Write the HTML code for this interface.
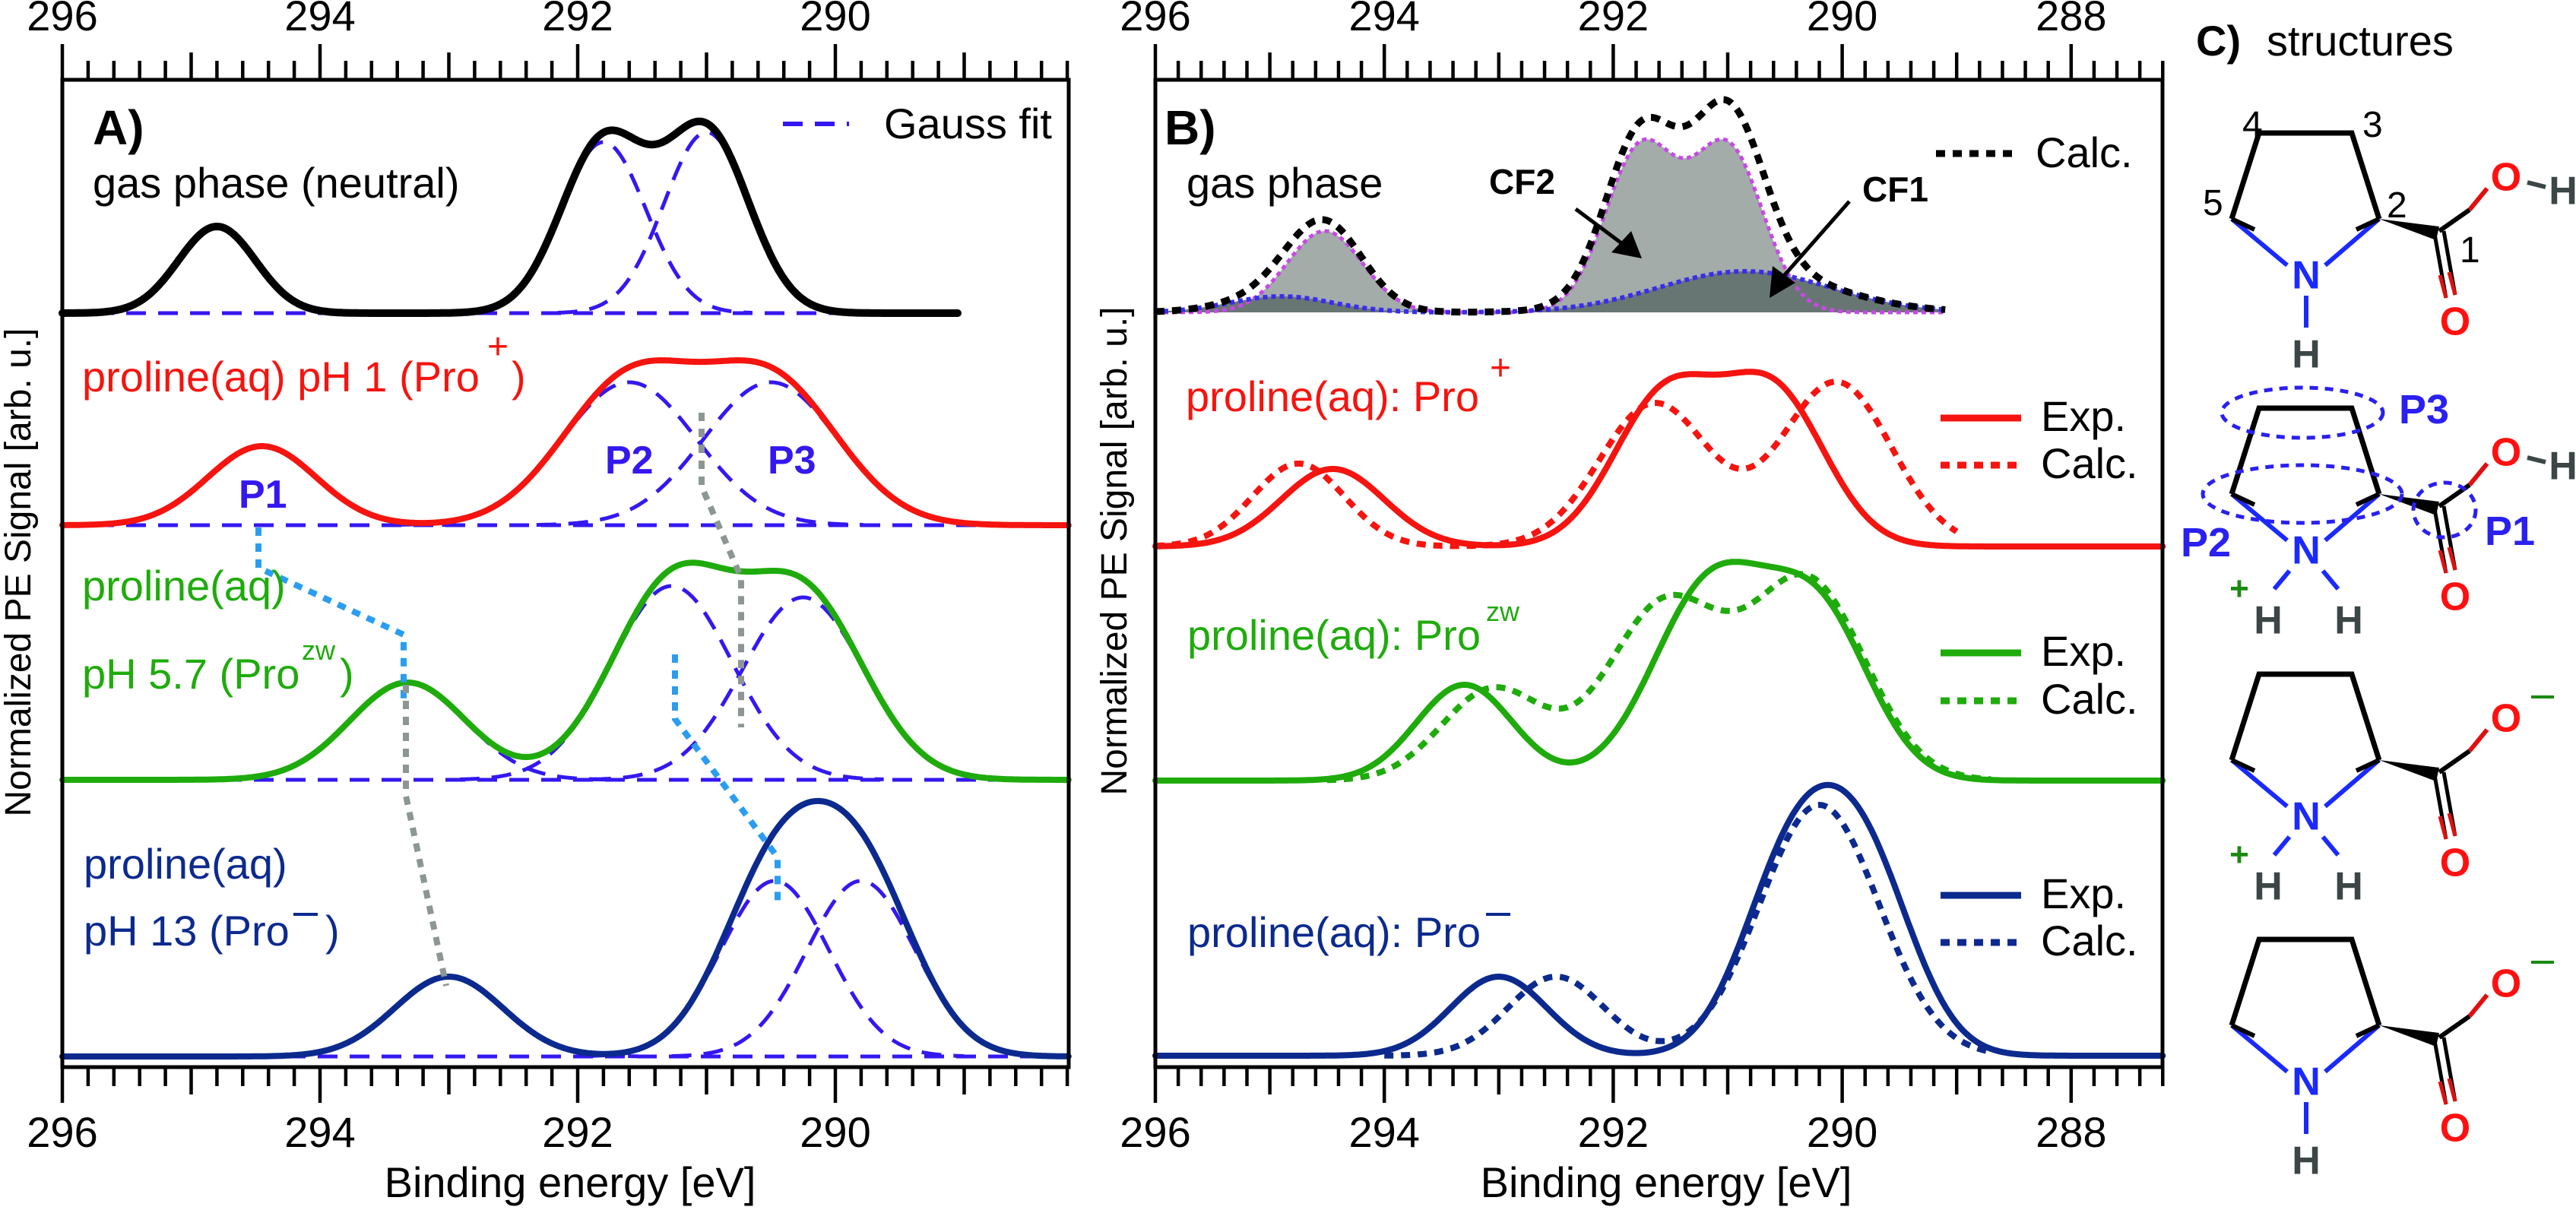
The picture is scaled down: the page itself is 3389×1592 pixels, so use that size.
<!DOCTYPE html>
<html>
<head>
<meta charset="utf-8">
<style>
html,body{margin:0;padding:0;background:#fff;}
svg{display:block;font-family:"Liberation Sans",sans-serif;}
</style>
</head>
<body>
<svg id="fig" width="3389" height="1592" viewBox="0 0 3389 1592" xmlns="http://www.w3.org/2000/svg">
<defs>
<linearGradient id="gBN1" x1="0" y1="0" x2="1" y2="0"><stop offset="0" stop-color="#000"/><stop offset="0.35" stop-color="#1a2ad0"/><stop offset="1" stop-color="#1a2aff"/></linearGradient>
<linearGradient id="gNB1" x1="0" y1="0" x2="1" y2="0"><stop offset="0" stop-color="#1a2aff"/><stop offset="0.65" stop-color="#1a2ad0"/><stop offset="1" stop-color="#000"/></linearGradient>
</defs>
</svg>
<script>
// ---------- Panel A data (Gauss components: center [eV], amplitude [arb. u.], width sigma [eV]) ----------
const aGasCenters = [294.8, 291.8, 291.0];
const aGasAmps = [1.14, 2.25, 2.38];
const aGasWidths = [0.30, 0.33, 0.33];
const aPlusCenters = [294.45, 291.6, 290.5];
const aPlusAmps = [1.04, 1.88, 1.88];
const aPlusWidths = [0.42, 0.52, 0.52];
const aZwCenters = [293.32, 291.27, 290.25];
const aZwAmps = [1.28, 2.55, 2.4];
const aZwWidths = [0.45, 0.47, 0.47];
const aMinusCenters = [293.0, 290.47, 289.8];
const aMinusAmps = [1.05, 2.31, 2.31];
const aMinusWidths = [0.42, 0.42, 0.42];
// ---------- Panel B data ----------
const bCF2Centers = [294.52, 291.76, 291.0];
const bCF2Amps = [1.07, 2.15, 2.15];
const bCF2Widths = [0.33, 0.31, 0.31];
const bCF1Centers = [294.9, 290.85];
const bCF1Amps = [0.21, 0.54];
const bCF1Widths = [0.45, 0.75];
const bPlusExpCenters = [294.45, 291.55, 290.6];
const bPlusExpAmps = [1.02, 1.95, 2.0];
const bPlusExpWidths = [0.45, 0.45, 0.45];
const bPlusCalcCenters = [294.75, 291.64, 290.05];
const bPlusCalcAmps = [1.09, 1.88, 2.16];
const bPlusCalcWidths = [0.4, 0.48, 0.48];
const bZwExpCenters = [293.3, 291.15, 290.2];
const bZwExpAmps = [1.26, 2.55, 2.1];
const bZwExpWidths = [0.42, 0.5, 0.45];
const bZwCalcCenters = [293.05, 291.55, 290.3];
const bZwCalcAmps = [1.2, 2.3, 2.6];
const bZwCalcWidths = [0.45, 0.5, 0.5];
const bMinusExpCenters = [293.0, 290.45, 289.8];
const bMinusExpAmps = [1.04, 2.37, 2.37];
const bMinusExpWidths = [0.42, 0.43, 0.43];
const bMinusCalcCenters = [292.5, 290.2];
const bMinusCalcAmps = [1.04, 3.3];
const bMinusCalcWidths = [0.42, 0.52];
// tick labels
const aTickLabels = [296, 294, 292, 290];
const bTickLabels = [296, 294, 292, 290, 288];

const NS = 'http://www.w3.org/2000/svg';
const svg = document.getElementById('fig');
function mk(tag, attrs, parent) {
  const el = document.createElementNS(NS, tag);
  for (const k in attrs) el.setAttribute(k, attrs[k]);
  (parent || svg).appendChild(el);
  return el;
}
// axis functions
const xA = e => 82 + (296 - e) * 169.5;
const xB = e => 1520 + (296 - e) * 150.6;
const yV = (base, v) => base - v * 100;
const A_MIN = 288.19, B_MIN = 287.2;

function gsum(e, cs, as, ws) {
  let s = 0;
  for (let i = 0; i < cs.length; i++) s += as[i] * Math.exp(-0.5 * Math.pow((e - cs[i]) / ws[i], 2));
  return s;
}
function curvePts(xf, base, e0, e1, cs, as, ws) {
  const pts = [];
  for (let e = e0; e >= e1 - 1e-9; e -= 0.01) pts.push(xf(e).toFixed(1) + ',' + yV(base, gsum(e, cs, as, ws)).toFixed(1));
  return pts;
}
function drawCurve(name, xf, base, e0, e1, cs, as, ws, color, width, dash, fill) {
  const pts = curvePts(xf, base, e0, e1, cs, as, ws);
  const el = mk('polyline', {points: pts.join(' '), fill: 'none', stroke: color, 'stroke-width': width, 'stroke-linejoin': 'round', 'stroke-linecap': dash ? 'butt' : 'round'});
  if (dash) el.setAttribute('stroke-dasharray', dash);
  
  
  return el;
}
function drawFill(name, xf, base, e0, e1, cs, as, ws, color) {
  const pts = curvePts(xf, base, e0, e1, cs, as, ws);
  pts.push(xf(e1).toFixed(1) + ',' + base, xf(e0).toFixed(1) + ',' + base);
  const el = mk('polygon', {points: pts.join(' '), fill: color, stroke: 'none'});
  
  
}
function txt(name, x, y, s, size, color, weight, anchor) {
  const el = mk('text', {x: x, y: y, 'font-size': size, fill: color || '#000', 'font-weight': weight || 'normal', 'text-anchor': anchor || 'start'});
  el.textContent = s;
  
  
  return el;
}
function line(name, x1, y1, x2, y2, color, w, dash) {
  const el = mk('line', {x1: x1, y1: y1, x2: x2, y2: y2, stroke: color, 'stroke-width': w});
  if (dash) el.setAttribute('stroke-dasharray', dash);
  
  
  return el;
}
function poly(name, pts, color, w, dash) {
  const el = mk('polyline', {points: pts, fill: 'none', stroke: color, 'stroke-width': w});
  if (dash) el.setAttribute('stroke-dasharray', dash);
  
  
  return el;
}

// ---------- axes ----------
function axes(prefix, xf, left, right, eMin, labels) {
  const top = 105, bot = 1404;
  for (let k = 0; ; k++) {
    const e = 296 - k * 0.2;
    if (e < eMin - 1e-6) break;
    const x = xf(e);
    const r = Math.round(e * 10) / 10;
    let len = 25;
    if (Math.abs(r - Math.round(r)) < 1e-6) len = (Math.round(r) % 2 === 0) ? 47 : 36;
    line(prefix + '-top-tick', x, top, x, top - len, '#000', 4.5);
    line(prefix + '-bottom-tick', x, bot, x, bot + len, '#000', 4.5);
  }
  labels.forEach(v => {
    txt(prefix + '-top-tick-label', xf(v), 40, String(v), 56, '#000', 'normal', 'middle');
    txt(prefix + '-bottom-tick-label', xf(v), 1509, String(v), 56, '#000', 'normal', 'middle');
  });
  const fr = mk('rect', {x: left, y: top, width: right - left, height: bot - top, fill: 'none', stroke: '#000', 'stroke-width': 5});
  
  
}

// ---------- Panel A ----------
const BLUE_D = '#3418f0', RED = '#f5140f', GREEN = '#1fab0c', NAVY = '#0c2a8e';
const aBase = {gas: 412, plus: 691, zw: 1026, minus: 1390};
function gaussComps(prefix, base, cs, as, ws, e0, e1) {
  for (let i = 0; i < cs.length; i++) {
    const s0 = Math.min(e0, cs[i] + 3.5 * ws[i]), s1 = Math.max(e1, cs[i] - 3.5 * ws[i]);
    drawCurve(prefix + '-gauss-component', xA, base, s0, s1, [cs[i]], [as[i]], [ws[i]], BLUE_D, 5, '26 16');
  }
}
// baselines
line('a-gas-fit-baseline', xA(296), aBase.gas, xA(289.05), aBase.gas, BLUE_D, 5, '26 16');
line('a-plus-fit-baseline', xA(296), aBase.plus, xA(A_MIN), aBase.plus, BLUE_D, 5, '26 16');
line('a-zw-fit-baseline', xA(296), aBase.zw, xA(A_MIN), aBase.zw, BLUE_D, 5, '26 16');
line('a-minus-fit-baseline', xA(296), aBase.minus, xA(A_MIN), aBase.minus, BLUE_D, 5, '26 16');
gaussComps('a-gas', aBase.gas, aGasCenters.slice(1), aGasAmps.slice(1), aGasWidths.slice(1), 296, 289.05);
gaussComps('a-plus', aBase.plus, aPlusCenters, aPlusAmps, aPlusWidths, 296, A_MIN);
gaussComps('a-zw', aBase.zw, aZwCenters, aZwAmps, aZwWidths, 296, A_MIN);
gaussComps('a-minus', aBase.minus, aMinusCenters, aMinusAmps, aMinusWidths, 296, A_MIN);
drawCurve('a-gas-spectrum', xA, aBase.gas, 296, 289.05, aGasCenters, aGasAmps, aGasWidths, '#000', 10);
drawCurve('a-plus-spectrum', xA, aBase.plus, 296, A_MIN, aPlusCenters, aPlusAmps, aPlusWidths, RED, 8);
drawCurve('a-zw-spectrum', xA, aBase.zw, 296, A_MIN, aZwCenters, aZwAmps, aZwWidths, GREEN, 8);
drawCurve('a-minus-spectrum', xA, aBase.minus, 296, A_MIN, aMinusCenters, aMinusAmps, aMinusWidths, NAVY, 8);
// peak connectors
poly('p1-shift-connector', '340,694 340,747 531,835 531,919', '#2a9df0', 8, '11 10');
poly('p2-shift-connector', '888,861 888,946 1023,1128 1023,1194', '#2a9df0', 8, '11 10');
poly('p3-shift-connector', '923,543 923,640 975,760 975,957', '#8c9694', 8, '11 10');
poly('p1-gray-connector', '534,901 534,1047 587,1297', '#8c9694', 8, '11 10');
axes('a', xA, 82, 1406, A_MIN, aTickLabels);
// Panel A labels
txt('panel-a-label', 122, 190, 'A)', 64, '#000', 'bold');
txt('a-gas-label', 122, 260, 'gas phase (neutral)', 56);
line('a-legend-gauss-swatch', 1030, 163, 1117, 163, BLUE_D, 6, '26 16');
txt('a-legend-gauss-label', 1163, 182, 'Gauss fit', 56);
txt('a-plus-label', 108, 515, 'proline(aq) pH 1 (Pro', 56, RED);
txt('a-plus-sup', 641, 472, '+', 48, RED);
txt('a-plus-paren', 673, 515, ')', 56, RED);
txt('p1-label', 314, 668, 'P1', 52, BLUE_D, 'bold');
txt('p2-label', 796, 623, 'P2', 52, BLUE_D, 'bold');
txt('p3-label', 1010, 623, 'P3', 52, BLUE_D, 'bold');
txt('a-zw-label-line1', 108, 790, 'proline(aq)', 56, GREEN);
txt('a-zw-label-line2', 108, 906, 'pH 5.7 (Pro', 56, GREEN);
txt('a-zw-sup', 397, 868, 'zw', 36, GREEN);
txt('a-zw-paren', 447, 906, ')', 56, GREEN);
txt('a-minus-label-line1', 110, 1156, 'proline(aq)', 56, NAVY);
txt('a-minus-label-line2', 110, 1244, 'pH 13 (Pro', 56, NAVY);
line('a-minus-sup', 386, 1203, 418, 1203, NAVY, 4);
txt('a-minus-paren', 428, 1244, ')', 56, NAVY);
txt('a-x-axis-title', 750, 1575, 'Binding energy [eV]', 56, '#000', 'normal', 'middle');
const ya = txt('a-y-axis-title', 0, 0, 'Normalized PE Signal [arb. u.]', 48, '#000', 'normal', 'middle');
ya.setAttribute('transform', 'translate(40,753) rotate(-90)');

// ---------- Panel B ----------
const bBase = {gas: 411, plus: 719, zw: 1027, minus: 1389};
const calcCs = bCF2Centers.concat(bCF1Centers), calcAs = bCF2Amps.concat(bCF1Amps), calcWs = bCF2Widths.concat(bCF1Widths);
drawFill('cf2-area', xB, bBase.gas, 296, 289.1, bCF2Centers, bCF2Amps, bCF2Widths, '#a3aca9');
drawFill('cf1-area', xB, bBase.gas, 296, 289.1, bCF1Centers, bCF1Amps, bCF1Widths, '#687673');
drawCurve('cf2-curve', xB, bBase.gas, 296, 289.1, bCF2Centers, bCF2Amps, bCF2Widths, '#c848e8', 5, '6 5');
drawCurve('cf1-curve', xB, bBase.gas, 296, 289.1, bCF1Centers, bCF1Amps, bCF1Widths, '#3a2cf0', 6, '6 5');
drawCurve('b-gas-calc', xB, bBase.gas, 296, 289.1, calcCs, calcAs, calcWs, '#000', 9, '12 10');
drawCurve('b-plus-calc', xB, bBase.plus, 296, 289.0, bPlusCalcCenters, bPlusCalcAmps, bPlusCalcWidths, RED, 8, '12 10');
drawCurve('b-plus-exp', xB, bBase.plus, 296, B_MIN, bPlusExpCenters, bPlusExpAmps, bPlusExpWidths, RED, 8);
drawCurve('b-zw-calc', xB, bBase.zw, 294.5, 288.7, bZwCalcCenters, bZwCalcAmps, bZwCalcWidths, GREEN, 8, '12 10');
drawCurve('b-zw-exp', xB, bBase.zw, 296, B_MIN, bZwExpCenters, bZwExpAmps, bZwExpWidths, GREEN, 8);
drawCurve('b-minus-calc', xB, bBase.minus, 294.0, 288.7, bMinusCalcCenters, bMinusCalcAmps, bMinusCalcWidths, NAVY, 8, '12 10');
drawCurve('b-minus-exp', xB, bBase.minus, 296, B_MIN, bMinusExpCenters, bMinusExpAmps, bMinusExpWidths, NAVY, 8);
axes('b', xB, 1520, 2845, B_MIN, bTickLabels);
txt('panel-b-label', 1532, 190, 'B)', 64, '#000', 'bold');
txt('b-gas-label', 1561, 260, 'gas phase', 56);
txt('cf2-label', 1959, 255, 'CF2', 46, '#000', 'bold');
txt('cf1-label', 2450, 265, 'CF1', 46, '#000', 'bold');
line('cf2-arrow-shaft', 2073, 275, 2140, 325, '#000', 5);
const a2 = mk('polygon', {points: '2160,340 2120,332 2146,304', fill: '#000'});


line('cf1-arrow-shaft', 2433, 265, 2345, 365, '#000', 5);
const a1 = mk('polygon', {points: '2328,392 2332,350 2362,372', fill: '#000'});


line('b-legend-calc-gas-swatch', 2547, 202, 2647, 202, '#000', 9, '12 10');
txt('b-legend-calc-gas-label', 2678, 220, 'Calc.', 56);
txt('b-plus-label', 1560, 541, 'proline(aq): Pro', 56, RED);
txt('b-plus-sup', 1960, 500, '+', 48, RED);
line('b-plus-legend-exp-swatch', 2553, 550, 2659, 550, RED, 9);
txt('b-plus-legend-exp-label', 2685, 567, 'Exp.', 56);
line('b-plus-legend-calc-swatch', 2553, 612, 2659, 612, RED, 9, '12 10');
txt('b-plus-legend-calc-label', 2685, 629, 'Calc.', 56);
txt('b-zw-label', 1562, 855, 'proline(aq): Pro', 56, GREEN);
txt('b-zw-sup', 1955, 817, 'zw', 36, GREEN);
line('b-zw-legend-exp-swatch', 2553, 859, 2659, 859, GREEN, 9);
txt('b-zw-legend-exp-label', 2685, 876, 'Exp.', 56);
line('b-zw-legend-calc-swatch', 2553, 922, 2659, 922, GREEN, 9, '12 10');
txt('b-zw-legend-calc-label', 2685, 939, 'Calc.', 56);
txt('b-minus-label', 1562, 1246, 'proline(aq): Pro', 56, NAVY);
line('b-minus-sup', 1955, 1203, 1987, 1203, NAVY, 4);
line('b-minus-legend-exp-swatch', 2553, 1178, 2659, 1178, NAVY, 9);
txt('b-minus-legend-exp-label', 2685, 1195, 'Exp.', 56);
line('b-minus-legend-calc-swatch', 2553, 1240, 2659, 1240, NAVY, 9, '12 10');
txt('b-minus-legend-calc-label', 2685, 1257, 'Calc.', 56);
txt('b-x-axis-title', 2192, 1575, 'Binding energy [eV]', 56, '#000', 'normal', 'middle');
const yb = txt('b-y-axis-title', 0, 0, 'Normalized PE Signal [arb. u.]', 48, '#000', 'normal', 'middle');
yb.setAttribute('transform', 'translate(1482,725) rotate(-90)');

// ---------- Panel C: structures ----------
txt('panel-c-label', 2889, 73, 'C)', 56, '#000', 'bold');
txt('panel-c-title', 2982, 73, 'structures', 56);
function atom(name, x, y, s, color, size) {
  txt(name, x, y + (size || 52) * 0.36, s, size || 52, color, 'bold', 'middle');
}
function proline(idx, dy, kind) {
  const p = (x, y) => [x, y + dy];
  const C4 = p(2972, 175), C3 = p(3094, 175), C2 = p(3130, 288), N = p(3034, 361), C5 = p(2936, 288), C1 = p(3209, 304), Oa = p(3297, 232), Ob = p(3230, 422);
  const pre = 'structure-' + idx;
  poly(pre + '-ring-bonds', [C5, C4, C3, C2].map(q => q.join(',')).join(' '), '#000', 7);
  line(pre + '-bond-c2-n', C2[0], C2[1], N[0] + 25, N[1] - 12, '#1a2aff', 6);
  line(pre + '-bond-c5-n', C5[0], C5[1], N[0] - 25, N[1] - 12, '#1a2aff', 6);
  line(pre + '-bond-c2-c2dark', C2[0], C2[1], C2[0] - 30, C2[1] + 14, '#000', 6);
  line(pre + '-bond-c5-c5dark', C5[0], C5[1], C5[0] + 30, C5[1] + 14, '#000', 6);
  const w = mk('polygon', {points: `${C2[0]},${C2[1]} ${C1[0]},${C1[1] - 6} ${C1[0] - 4},${C1[1] + 12}`, fill: '#000'});
  
  
  line(pre + '-bond-c1-o', C1[0], C1[1], C1[0] + 40, C1[1] - 28, '#000', 6);
  line(pre + '-bond-c1-o-red', C1[0] + 40, C1[1] - 28, Oa[0] - 25, Oa[1] + 16, '#e01010', 6);
  line(pre + '-bond-c1-o-double-a', C1[0] - 6, C1[1] + 4, Ob[0] - 12, Ob[1] - 30, '#000', 5);
  line(pre + '-bond-c1-o-double-b', C1[0] + 6, C1[1], Ob[0], Ob[1] - 34, '#000', 5);
  line(pre + '-bond-o-red-a', Ob[0] - 20, Ob[1] - 60, Ob[0] - 12, Ob[1] - 30, '#e01010', 5);
  line(pre + '-bond-o-red-b', Ob[0] - 8, Ob[1] - 64, Ob[0], Ob[1] - 34, '#e01010', 5);
  atom(pre + '-atom-n', N[0], N[1], 'N', '#1a2aff');
  atom(pre + '-atom-o-carbonyl', Ob[0], Ob[1], 'O', '#ff1010');
  atom(pre + '-atom-o', Oa[0], Oa[1], 'O', '#ff1010');
  if (kind === 'neutral' || kind === 'cation') {
    line(pre + '-bond-o-h', Oa[0] + 28, Oa[1] + 8, Oa[0] + 52, Oa[1] + 14, '#3c4646', 6);
    atom(pre + '-atom-h-acid', 3372, Oa[1] + 18, 'H', '#3c4646');
  } else {
    line(pre + '-charge-minus', 3330, dy + 205, 3360, dy + 205, '#1a8a10', 4);
  }
  if (kind === 'neutral' || kind === 'anion') {
    line(pre + '-bond-n-h', N[0], N[1] + 28, N[0], N[1] + 70, '#1a2aff', 6);
    atom(pre + '-atom-h-n', N[0], N[1] + 104, 'H', '#3c4646');
  } else {
    line(pre + '-bond-n-h1', N[0] - 22, N[1] + 28, N[0] - 42, N[1] + 52, '#1a2aff', 6);
    line(pre + '-bond-n-h2', N[0] + 22, N[1] + 28, N[0] + 42, N[1] + 52, '#1a2aff', 6);
    atom(pre + '-atom-h-n1', N[0] - 50, N[1] + 92, 'H', '#3c4646');
    atom(pre + '-atom-h-n2', N[0] + 56, N[1] + 92, 'H', '#3c4646');
    txt(pre + '-charge-plus', N[0] - 88, N[1] + 66, '+', 44, '#1a8a10', 'bold', 'middle');
  }
}
proline(1, 0, 'neutral');
proline(2, 362, 'cation');
proline(3, 712, 'zwitterion');
proline(4, 1061, 'anion');
txt('atom-number-4', 2950, 180, '4', 48);
txt('atom-number-3', 3108, 180, '3', 48);
txt('atom-number-5', 2898, 283, '5', 48);
txt('atom-number-2', 3140, 286, '2', 48);
txt('atom-number-1', 3236, 345, '1', 48);
function ell(name, cx, cy, rx, ry) {
  const e = mk('ellipse', {cx: cx, cy: cy, rx: rx, ry: ry, fill: 'none', stroke: '#2a20f0', 'stroke-width': 5, 'stroke-dasharray': '11 9'});
  
  
}
ell('p3-region-ellipse', 3029, 543, 106, 33);
ell('p2-region-ellipse', 3029, 650, 131, 38);
ell('p1-region-ellipse', 3216, 671, 41, 36);
txt('structure-p3-label', 3156, 557, 'P3', 54, '#2a20f0', 'bold');
txt('structure-p2-label', 2869, 732, 'P2', 54, '#2a20f0', 'bold');
txt('structure-p1-label', 3269, 717, 'P1', 54, '#2a20f0', 'bold');
</script>
</body>
</html>
